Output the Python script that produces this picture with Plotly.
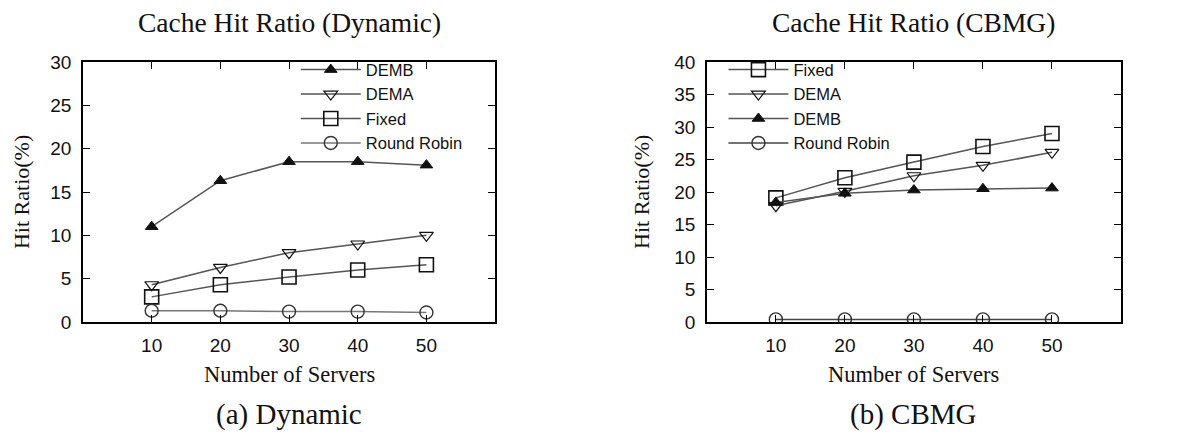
import plotly.graph_objects as go

servers = [10, 20, 30, 40, 50]

# (a) Dynamic
dyn_demb = [11.0, 16.3, 18.5, 18.5, 18.1]
dyn_dema = [4.3, 6.3, 8.0, 9.0, 10.0]
dyn_fixed = [2.9, 4.3, 5.2, 6.0, 6.6]
dyn_rr = [1.3, 1.3, 1.2, 1.2, 1.1]

# (b) CBMG
cb_fixed = [19.1, 22.2, 24.6, 27.0, 29.0]
cb_dema = [17.9, 20.1, 22.5, 24.1, 26.1]
cb_demb = [18.4, 19.8, 20.3, 20.5, 20.6]
cb_rr = [0.4, 0.4, 0.4, 0.4, 0.4]

x_ticks = [10, 20, 30, 40, 50]
y_ticks_a = [0, 5, 10, 15, 20, 25, 30]
y_ticks_b = [0, 5, 10, 15, 20, 25, 30, 35, 40]

LINE = "#555555"
MK = "#111111"

styles = {
    "DEMB": dict(symbol="triangle-up", size=11, color=MK, line=dict(color=MK, width=1)),
    "DEMA": dict(symbol="triangle-down-open", size=12, color=MK, line=dict(color=MK, width=1.2)),
    "Fixed": dict(symbol="square-open", size=14, color=MK, line=dict(color=MK, width=1.6)),
    "Round Robin": dict(symbol="circle-open", size=13, color="#333333", line=dict(color="#333333", width=1.4)),
}

fig = go.Figure()

def add(name, y, xa, ya, leg, lcol=LINE):
    fig.add_trace(go.Scatter(
        x=servers, y=y, name=name, mode="lines+markers",
        xaxis=xa, yaxis=ya, legend=leg,
        line=dict(color=lcol, width=1.5),
        marker=styles[name],
    ))

add("DEMB", dyn_demb, "x", "y", "legend")
add("DEMA", dyn_dema, "x", "y", "legend")
add("Fixed", dyn_fixed, "x", "y", "legend")
add("Round Robin", dyn_rr, "x", "y", "legend", "#777777")

add("Fixed", cb_fixed, "x2", "y2", "legend2")
add("DEMA", cb_dema, "x2", "y2", "legend2")
add("DEMB", cb_demb, "x2", "y2", "legend2")
add("Round Robin", cb_rr, "x2", "y2", "legend2", "#444444")

tickfont = dict(family="Liberation Sans, Arial, sans-serif", size=19, color="#111")
axis_common = dict(
    showline=True, linecolor="black", linewidth=1.5, mirror="ticks",
    ticks="inside", ticklen=7, tickwidth=1.2, tickcolor="black",
    showgrid=False, zeroline=False, tickfont=tickfont,
)

legfont = dict(family="Liberation Sans, Arial, sans-serif", size=16.5, color="#111")
# page body has an 8px margin: the figure is sized to fit the window exactly
fig.update_layout(
    width=1188, height=429,
    margin=dict(l=75, r=75, t=54, b=115),
    paper_bgcolor="white", plot_bgcolor="white",
    showlegend=True,
    xaxis=dict(domain=[0, 0.397], range=[0, 60], tickvals=x_ticks, anchor="y",
               ticklabelstandoff=5, **axis_common),
    yaxis=dict(domain=[0, 1], range=[0, 30], tickvals=y_ticks_a, anchor="x",
               ticklabelstandoff=6, **axis_common),
    xaxis2=dict(domain=[0.601, 1], range=[0, 60], tickvals=x_ticks, anchor="y2",
                ticklabelstandoff=5, **axis_common),
    yaxis2=dict(domain=[0, 1], range=[0, 40], tickvals=y_ticks_b, anchor="x2",
                ticklabelstandoff=6, **axis_common),
    legend=dict(x=0.205, y=1.037, xanchor="left", yanchor="top", bgcolor="rgba(0,0,0,0)",
                font=legfont, tracegroupgap=0, itemwidth=60),
    legend2=dict(x=0.617, y=1.037, xanchor="left", yanchor="top", bgcolor="rgba(0,0,0,0)",
                 font=legfont, tracegroupgap=0, itemwidth=60),
)

serif = "Liberation Serif, Times New Roman, serif"
ann = [
    dict(text="Cache Hit Ratio (Dynamic)", x=0.1985, y=1.153, size=27.5),
    dict(text="Cache Hit Ratio (CBMG)", x=0.8005, y=1.153, size=27.5),
    dict(text="Number of Servers", x=0.1985, y=-0.203, size=22.5),
    dict(text="Number of Servers", x=0.8005, y=-0.203, size=22.5),
    dict(text="(a) Dynamic", x=0.1985, y=-0.355, size=29),
    dict(text="(b) CBMG", x=0.8005, y=-0.355, size=29),
]
for a in ann:
    fig.add_annotation(text=a["text"], x=a["x"], y=a["y"], xref="paper", yref="paper",
                       xanchor="center", yanchor="middle", showarrow=False,
                       font=dict(family=serif, size=a["size"], color="#111"))
for xp in [-0.0597, 0.5375]:
    fig.add_annotation(text="Hit Ratio(%)", x=xp, y=0.5, xref="paper", yref="paper",
                       xanchor="center", yanchor="middle", showarrow=False, textangle=-90,
                       font=dict(family=serif, size=22, color="#111"))

fig.write_html("out.html")
